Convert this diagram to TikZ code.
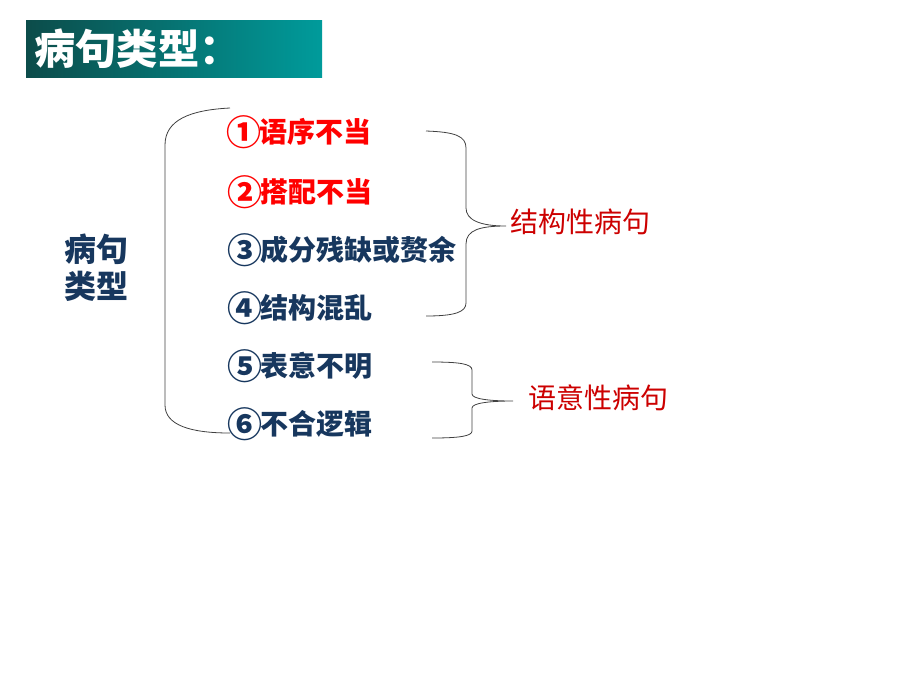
\documentclass[tikz,border=0pt]{standalone}
\usepackage{fontspec}
\setmainfont{Noto Sans CJK SC}
\definecolor{titledark}{RGB}{12,76,74}
\definecolor{titlelight}{RGB}{0,155,155}
\definecolor{itemblue}{RGB}{23,55,94}
\definecolor{itemred}{RGB}{255,0,0}
\definecolor{sortred}{RGB}{204,0,0}
\newcommand\circled[1]{\makebox[1.1em]{\raisebox{-0.1em}{\scalebox{1.25}{#1}}}}
\tikzset{
  item/.style={anchor=west, inner sep=0pt, font=\bfseries\fontsize{21}{24}\selectfont},
  sortlabel/.style={anchor=west, inner sep=0pt, text=sortred, font=\fontsize{21}{24}\selectfont},
  bracket/.style={draw=black!75, line width=0.6pt}
}

\begin{document}
\begin{tikzpicture}[x=0.75pt, y=-0.75pt]
            \useasboundingbox (0,0) rectangle (920,690);
            % title bar
            \shade[left color=titledark, right color=titlelight] (26,20) rectangle (322,77);
            \node[anchor=west, inner sep=0pt, text=white, font=\bfseries\fontsize{31}{34}\selectfont] (title) at (34,49) {病句类型：};
            % left label
            \node[align=center, inner sep=0pt, text=itemblue, font=\bfseries\fontsize{24}{28}\selectfont] (kind) at (96,268) {病句\\类型};
            % the six kinds
            \node[item, text=itemred] (order) at (228,132) {\circled{①}语序不当};
            \node[item, text=itemred] (match) at (229,192) {\circled{②}搭配不当};
            \node[item, text=itemblue] (part) at (229,250) {\circled{③}成分残缺或赘余};
            \node[item, text=itemblue] (struct) at (229,308) {\circled{④}结构混乱};
            \node[item, text=itemblue] (meaning) at (229,366) {\circled{⑤}表意不明};
            \node[item, text=itemblue] (logic) at (229,424) {\circled{⑥}不合逻辑};
            % groups
            \node[sortlabel] (structural) at (510,222) {结构性病句};
            \node[sortlabel] (semantic) at (528,398) {语意性病句};
            % brackets
            \draw[bracket] (230,108) .. controls (190,110) and (165,120) .. (165,145)
                -- (165,405) .. controls (165,425) and (190,433) .. (230,433);
            \draw[bracket] (426,131) .. controls (455,132) and (466,136) .. (466,148)
                -- (466,208) .. controls (466,220) and (480,226) .. (506,226)
                .. controls (480,226) and (466,230) .. (466,244)
                -- (466,303) .. controls (466,312) and (455,316) .. (426,316);
            \draw[bracket] (432,362) .. controls (460,362) and (472,364) .. (472,370)
                -- (472,394) .. controls (472,399) and (490,401) .. (513,401)
                .. controls (490,401) and (472,403) .. (472,408)
                -- (472,431) .. controls (472,436) and (460,438) .. (432,438);
        \end{tikzpicture}
\end{document}
